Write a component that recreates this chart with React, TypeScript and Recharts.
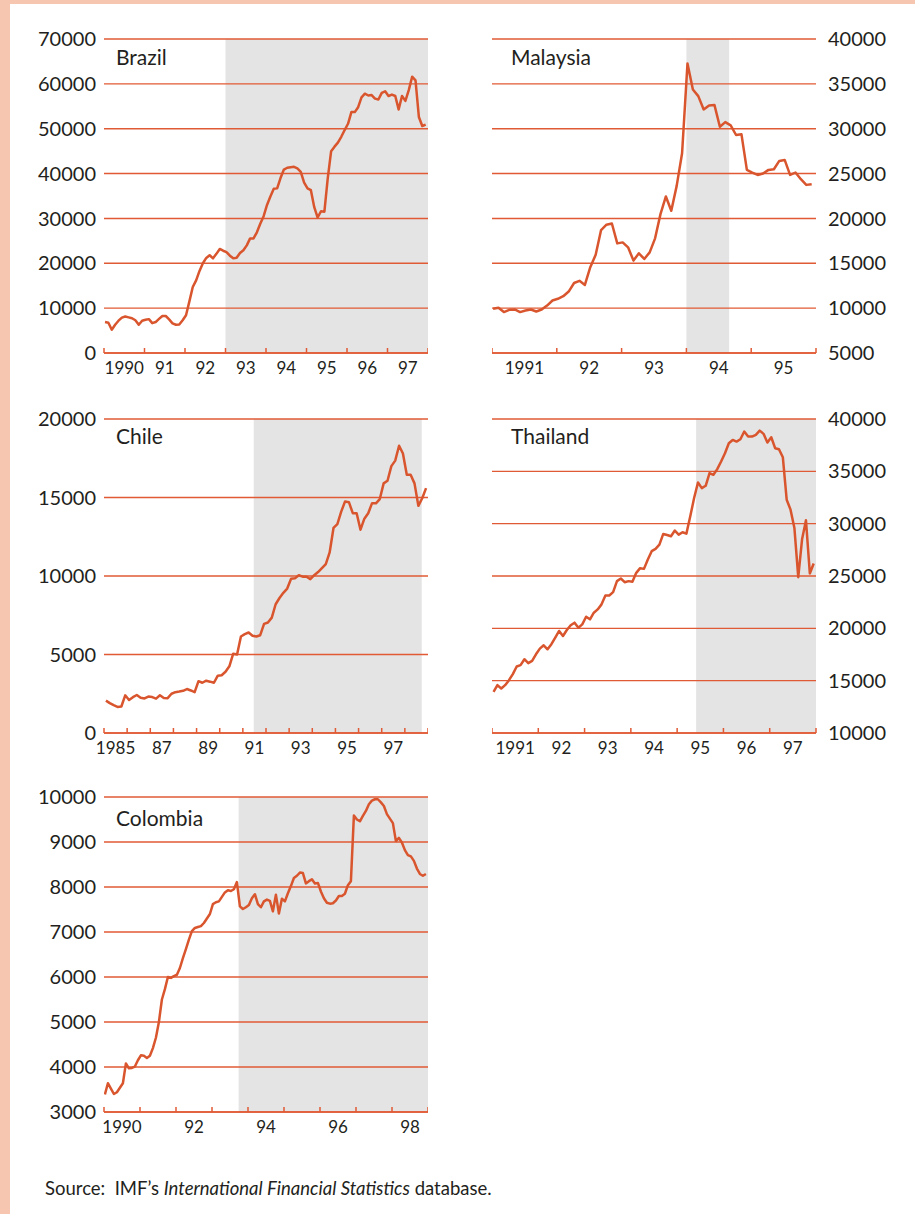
import React from "react";
import {
  LineChart,
  Line,
  XAxis,
  YAxis,
  CartesianGrid,
  ReferenceArea,
} from "recharts";

const RED = "#d9552d";
const GRID = "#e05a35";
const SHADE = "#e4e4e4";
const INK = "#231f20";
const BORDER = "#f6c6b0";
const FONT = "Lato, 'Open Sans', sans-serif";

// monthly values (Chile: every other month)
const brazilValues = [
  6900, 6750, 5200, 6300, 7200, 7900, 8150, 7950, 7750, 7300, 6300, 7200,
  7400, 7550, 6650, 6900, 7600, 8250, 8250, 7500, 6600, 6300, 6370, 7300,
  8400, 11500, 14700, 16200, 18300, 20000, 21200, 21800, 21100, 22100, 23200, 22800,
  22500, 21700, 21100, 21250, 22300, 22900, 24000, 25550, 25550, 26900, 28800, 30500,
  33000, 34900, 36600, 36700, 39000, 40900, 41300, 41400, 41500, 41150, 40400, 38000,
  36700, 36300, 32500, 30200, 31600, 31500, 39000, 45000, 46000, 46900, 48200, 49700,
  51100, 53700, 53700, 54800, 57000, 57800, 57400, 57500, 56700, 56500, 58000, 58350,
  57300, 57600, 57300, 54300, 57300, 56200, 58600, 61600, 60800, 52600, 50600, 50900,
];

const malaysiaValues = [
  9930, 10040, 9560, 9815, 9850, 9560, 9740, 9850, 9630, 9850, 10290, 10850,
  11040, 11330, 11850, 12800, 13040, 12590, 14560, 15960, 18700, 19300, 19440, 17220,
  17330, 16780, 15300, 16110, 15480, 16220, 17780, 20480, 22450, 20850, 23630, 27260,
  37260, 34370, 33630, 32150, 32600, 32630, 30220, 30740, 30370, 29300, 29370, 25410,
  25110, 24850, 25000, 25410, 25480, 26410, 26520, 24850, 25110, 24370, 23740, 23820,
];

const chileValues = [
  2060, 1900, 1770, 1660, 1690, 2400, 2100, 2280, 2420, 2240, 2200, 2320,
  2290, 2190, 2400, 2230, 2220, 2500, 2600, 2640, 2690, 2800, 2710, 2600,
  3300, 3200, 3330, 3270, 3200, 3650, 3680, 3900, 4250, 5050, 5000, 6150,
  6300, 6400, 6200, 6150, 6230, 6950, 7040, 7350, 8200, 8600, 8930, 9200,
  9820, 9850, 10050, 9960, 9950, 9800, 10050, 10250, 10500, 10760, 11500, 13060,
  13300, 14100, 14750, 14700, 14000, 14000, 12950, 13650, 14000, 14640, 14630, 14900,
  15900, 16070, 17000, 17350, 18300, 17800, 16450, 16450, 15900, 14470, 14950, 15600,
];

const thailandValues = [
  13940, 14570, 14250, 14570, 15050, 15620, 16350, 16480, 17050, 16670, 16890, 17520,
  18060, 18380, 18000, 18480, 19110, 19750, 19270, 19840, 20290, 20540, 20060, 20380,
  21110, 20860, 21490, 21810, 22290, 23140, 23140, 23460, 24510, 24760, 24410, 24510,
  24450, 25300, 25750, 25680, 26570, 27370, 27590, 28000, 29020, 28920, 28800, 29340,
  28950, 29180, 29050, 30700, 32450, 33940, 33400, 33620, 34830, 34670, 35210, 35940,
  36730, 37690, 38000, 37840, 38070, 38800, 38320, 38320, 38480, 38890, 38580, 37750,
  38260, 37210, 37110, 36350, 32290, 31340, 29590, 24890, 28540, 30320, 25240, 26190,
];

const colombiaValues = [
  3390, 3640, 3520, 3400, 3440, 3540, 3640, 4080, 3970, 3980, 4010, 4150,
  4260, 4250, 4200, 4250, 4420, 4650, 5000, 5500, 5730, 6000, 5980, 6020,
  6050, 6200, 6420, 6620, 6830, 7020, 7090, 7110, 7130, 7200, 7300, 7400,
  7620, 7660, 7680, 7780, 7880, 7930, 7910, 7950, 8110, 7570, 7510, 7550,
  7600, 7750, 7840, 7620, 7550, 7680, 7720, 7690, 7460, 7830, 7410, 7740,
  7680, 7860, 8020, 8200, 8250, 8320, 8310, 8080, 8130, 8170, 8080, 8090,
  7900, 7750, 7650, 7630, 7640, 7700, 7800, 7800, 7850, 8040, 8130, 9590,
  9500, 9460, 9580, 9690, 9840, 9920, 9950, 9950, 9880, 9800, 9620, 9520,
  9420, 9020, 9090, 8990, 8820, 8710, 8680, 8580, 8410, 8290, 8250, 8290,
];

// year labels, one per year interval ("" = tick only)
const brazilYears = ["1990", "91", "92", "93", "94", "95", "96", "97"];
const malaysiaYears = ["1991", "92", "93", "94", "95"];
const chileYears = ["1985", "", "87", "", "89", "", "91", "", "93", "", "95", "", "97", ""];
const thailandYears = ["1991", "92", "93", "94", "95", "96", "97"];
const colombiaYears = ["1990", "", "92", "", "94", "", "96", "", "98"];

const brazilTicks = [0, 10000, 20000, 30000, 40000, 50000, 60000, 70000];
const malaysiaTicks = [5000, 10000, 15000, 20000, 25000, 30000, 35000, 40000];
const chileTicks = [0, 5000, 10000, 15000, 20000];
const thailandTicks = [10000, 15000, 20000, 25000, 30000, 35000, 40000];
const colombiaTicks = [3000, 4000, 5000, 6000, 7000, 8000, 9000, 10000];

const toSeries = (start: number, values: number[], offset: number, step = 1) =>
  values.map((v, i) => ({ t: start + (i * step + offset) / 12, v }));

interface PanelProps {
  data: { t: number; v: number }[];
  start: number;
  end: number;
  yTicks: number[];
  yearLabels: string[];
  shade: [number, number];
  x0: number;
  x1: number;
  y0: number;
  y1: number;
  side: "left" | "right";
}

const TOP = 20;

const Panel = ({ data, start, end, yTicks, yearLabels, shade, x0, x1, y0, y1, side }: PanelProps) => {
  const axisW = side === "left" ? 100 : 95;
  const width = x1 - x0 + axisW;
  const height = y1 - y0 + TOP + 40;
  const years: number[] = [];
  for (let y = start; y <= end; y++) years.push(y);
  const pxPerYear = (x1 - x0) / (end - start);

  const renderTick = (p: any) => {
    const label = yearLabels[Math.round(p.payload.value) - start];
    return (
      <g>
        <line x1={p.x} x2={p.x} y1={p.y} y2={p.y - 5} stroke={GRID} strokeWidth={1.5} />
        {label ? (
          <text
            x={p.x + pxPerYear / 2}
            y={p.y + 21}
            textAnchor="middle"
            fontSize={17}
            fontFamily={FONT}
            fill={INK}
          >
            {label}
          </text>
        ) : null}
      </g>
    );
  };

  return (
    <div style={{ position: "absolute", left: side === "left" ? x0 - axisW : x0, top: y0 - TOP }}>
      <LineChart
        width={width}
        height={height}
        data={data}
        margin={{ top: TOP, right: 0, bottom: 0, left: 0 }}
      >
        <ReferenceArea
          x1={shade[0]}
          x2={shade[1]}
          fill={SHADE}
          fillOpacity={1}
          stroke="none"
          ifOverflow="hidden"
          zIndex={-200}
        />
        <CartesianGrid vertical={false} stroke={GRID} strokeWidth={1.4} />
        <XAxis
          dataKey="t"
          type="number"
          domain={[start, end]}
          ticks={years}
          interval={0}
          tickSize={0}
          tickMargin={0}
          tickLine={false}
          axisLine={{ stroke: GRID, strokeWidth: 1.5 }}
          tick={renderTick}
          height={40}
          allowDataOverflow
        />
        <YAxis
          orientation={side}
          width={axisW}
          type="number"
          domain={[yTicks[0], yTicks[yTicks.length - 1]]}
          ticks={yTicks}
          interval={0}
          tickSize={0}
          tickMargin={side === "left" ? 8 : 12}
          tickLine={false}
          axisLine={false}
          tick={{ fill: INK, fontSize: 20, fontFamily: FONT }}
          allowDataOverflow
        />
        <Line
          dataKey="v"
          type="linear"
          stroke={RED}
          strokeWidth={2.5}
          strokeLinejoin="round"
          dot={false}
          isAnimationActive={false}
        />
      </LineChart>
    </div>
  );
};

export default function App() {
  return (
    <div
      style={{
        position: "absolute",
        left: 0,
        top: 0,
        width: 915,
        height: 1214,
        background: BORDER,
        overflow: "hidden",
      }}
    >
      <div style={{ position: "absolute", left: 10, top: 4, right: 0, bottom: 0, background: "#fff" }} />

      <Panel
        data={toSeries(1990, brazilValues, 0.3)}
        start={1990}
        end={1998}
        yTicks={brazilTicks}
        yearLabels={brazilYears}
        shade={[1993, 1998]}
        x0={104}
        x1={428}
        y0={39}
        y1={353}
        side="left"
      />
      <Panel
        data={toSeries(1991, malaysiaValues, 0.2)}
        start={1991}
        end={1996}
        yTicks={malaysiaTicks}
        yearLabels={malaysiaYears}
        shade={[1994, 1994.66]}
        x0={492}
        x1={816}
        y0={39}
        y1={353}
        side="right"
      />
      <Panel
        data={toSeries(1985, chileValues, 1, 2)}
        start={1985}
        end={1999}
        yTicks={chileTicks}
        yearLabels={chileYears}
        shade={[1991.47, 1998.73]}
        x0={104}
        x1={428}
        y0={419}
        y1={733}
        side="left"
      />
      <Panel
        data={toSeries(1991, thailandValues, 0.4)}
        start={1991}
        end={1998}
        yTicks={thailandTicks}
        yearLabels={thailandYears}
        shade={[1995.41, 1998]}
        x0={492}
        x1={816}
        y0={419}
        y1={733}
        side="right"
      />
      <Panel
        data={toSeries(1990, colombiaValues, 0.3)}
        start={1990}
        end={1999}
        yTicks={colombiaTicks}
        yearLabels={colombiaYears}
        shade={[1993.74, 1999]}
        x0={104}
        x1={428}
        y0={797}
        y1={1112}
        side="left"
      />

      <svg
        width={915}
        height={1214}
        style={{ position: "absolute", left: 0, top: 0, pointerEvents: "none" }}
      >
        <g fontFamily={FONT} fontSize={21} fill={INK}>
          <text x={116} y={65}>Brazil</text>
          <text x={511} y={65}>Malaysia</text>
          <text x={116} y={444}>Chile</text>
          <text x={511} y={444}>Thailand</text>
          <text x={116} y={826}>Colombia</text>
        </g>
        <text x={45} y={1195} fontFamily={FONT} fontSize={18.5} fill={INK} style={{ whiteSpace: "pre" }}>
          {"Source:  IMF\u2019s "}
          <tspan fontStyle="italic">International Financial Statistics</tspan>
          {" database."}
        </text>
      </svg>
    </div>
  );
}
